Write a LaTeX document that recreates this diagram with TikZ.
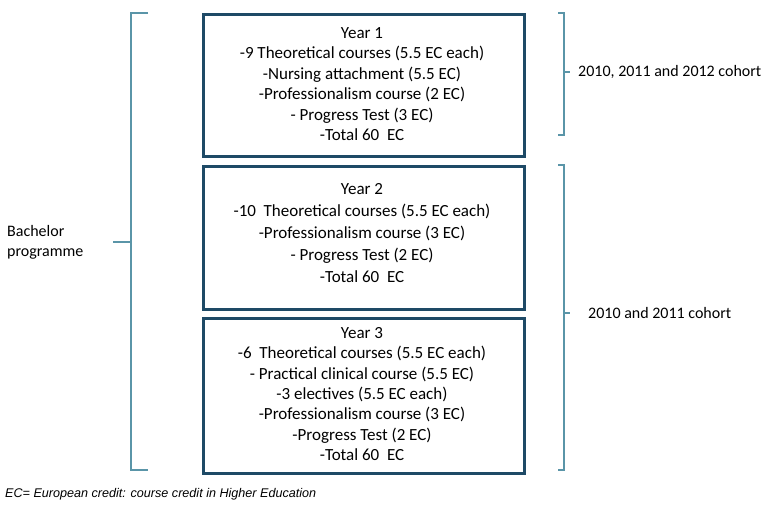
\documentclass[tikz,border=0pt]{standalone}
\usepackage{fontspec}
\setmainfont{Carlito}
\newfontfamily\footfont{Liberation Sans}
\definecolor{boxblue}{HTML}{1E4A66}
\definecolor{brk}{HTML}{5A95A8}
\begin{document}
\begin{tikzpicture}[x=1pt,y=-1pt,
  yearbox/.style={draw=boxblue,line width=2.6pt,minimum width=321pt,inner sep=0pt,anchor=north west},
  brline/.style={draw=brk,line width=1.1pt},
  txt/.style={font=\fontsize{17}{20.4}\selectfont,align=center,inner sep=0pt},
  side/.style={font=\fontsize{16}{20}\selectfont,inner sep=0pt}]
\useasboundingbox (0,0) rectangle (764,506);
% boxes
\node[yearbox,minimum height=142pt] (b1) at (202,13) {};
\node[yearbox,minimum height=143pt] (b2) at (202,165) {};
\node[yearbox,minimum height=155pt] (b3) at (202,317) {};
\node[txt] (t1) at (362,84) {Year 1\\-9 Theoretical courses (5.5 EC each)\\-Nursing attachment (5.5 EC)\\-Professionalism course (2 EC)\\- Progress Test (3 EC)\\-Total 60~ EC};
\node[txt,font=\fontsize{17}{21.8}\selectfont] (t2) at (362,233) {Year 2\\-10~ Theoretical courses (5.5 EC each)\\-Professionalism course (3 EC)\\- Progress Test (2 EC)\\-Total 60~ EC};
\node[txt] (t3) at (362,394) {Year 3\\-6~ Theoretical courses (5.5 EC each)\\- Practical clinical course (5.5 EC)\\-3 electives (5.5 EC each)\\-Professionalism course (3 EC)\\-Progress Test (2 EC)\\-Total 60~ EC};
% left bracket
\coordinate (lt) at (131,13);
\coordinate (lb) at (131,470);
\coordinate (lm) at (131,242);
\draw[brline] (148,13) -- (lt) -- (lb) -- (148,470);
\draw[brline] (lm) -- (113,242);
\node[side,align=left,anchor=west] (bach) at (7,242) {Bachelor\\programme};
% right brackets
\draw[brline] (558,13) -- (564,13) -- (564,135) -- (558,135);
\draw[brline] (564,72) -- (570,72);
\node[side,anchor=west] (c1) at (578,72) {2010, 2011 and 2012 cohort};
\draw[brline] (558,165) -- (564,165) -- (564,470) -- (558,470);
\draw[brline] (564,313) -- (570,313);
\node[side,anchor=west] (c2) at (588,313) {2010 and 2011 cohort};
% footnote
\node[anchor=west,inner sep=0pt,font=\footfont\itshape\fontsize{12.6}{14}\selectfont] (fn) at (5,494) {EC= European credit: course credit in Higher Education};
\end{tikzpicture}
\end{document}
